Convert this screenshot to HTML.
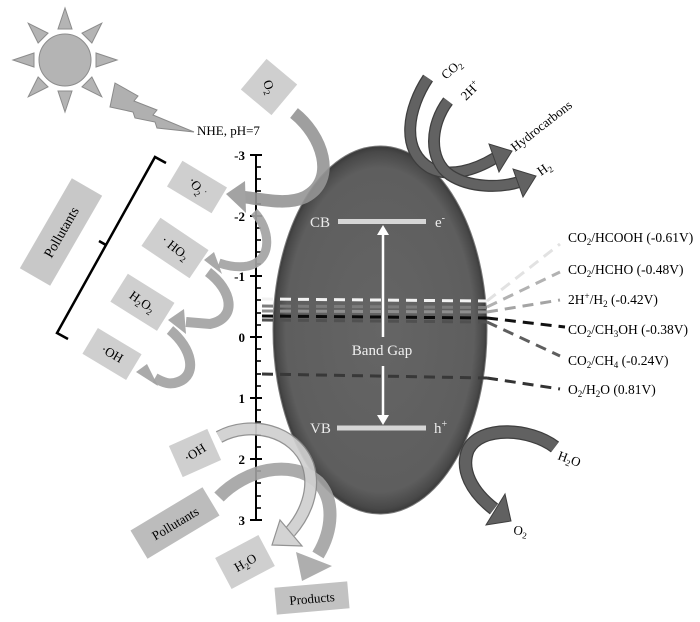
<!DOCTYPE html>
<html><head><meta charset="utf-8"><style>
html,body{margin:0;padding:0;background:#fff;}
svg{display:block;}
</style></head><body>
<svg width="700" height="622" viewBox="0 0 700 622" xmlns="http://www.w3.org/2000/svg" font-family="'Liberation Serif', serif">
<defs>
<radialGradient id="eg" cx="50%" cy="50%" r="50%">
<stop offset="0" stop-color="#656565"/>
<stop offset="0.88" stop-color="#5e5e5e"/>
<stop offset="0.97" stop-color="#484848"/>
<stop offset="1" stop-color="#3a3a3a"/>
</radialGradient>
</defs>

<!-- Sun -->
<g transform="translate(65,60)" fill="#b4b4b4" stroke="#8c8c8c" stroke-width="1">
<polygon points="0,-52 -7,-31 7,-31"/>
<polygon points="0,-52 -7,-31 7,-31" transform="rotate(45)"/>
<polygon points="0,-52 -7,-31 7,-31" transform="rotate(90)"/>
<polygon points="0,-52 -7,-31 7,-31" transform="rotate(135)"/>
<polygon points="0,-52 -7,-31 7,-31" transform="rotate(180)"/>
<polygon points="0,-52 -7,-31 7,-31" transform="rotate(225)"/>
<polygon points="0,-52 -7,-31 7,-31" transform="rotate(270)"/>
<polygon points="0,-52 -7,-31 7,-31" transform="rotate(315)"/>
<circle r="26"/>
</g>
<!-- Lightning -->
<polygon points="115,83 138,96 134,101 157,110 153,115 194,132 157,128 155,122 135,118 133,112 110,107" fill="#b0b0b0" stroke="#8a8a8a" stroke-width="1"/>
<text x="197" y="135" font-size="13">NHE, pH=7</text>

<!-- Axis -->
<g stroke="#000" stroke-width="2">
<line x1="256" y1="154" x2="256" y2="521"/>
<line x1="250" y1="155" x2="262" y2="155"/>
<line x1="250" y1="216" x2="262" y2="216"/>
<line x1="250" y1="276" x2="262" y2="276"/>
<line x1="250" y1="337" x2="262" y2="337"/>
<line x1="250" y1="398" x2="262" y2="398"/>
<line x1="250" y1="459" x2="262" y2="459"/>
<line x1="250" y1="520" x2="262" y2="520"/>
</g>
<g stroke="#000" stroke-width="1.6">
<line x1="256" y1="167" x2="261" y2="167"/><line x1="256" y1="179" x2="261" y2="179"/><line x1="256" y1="191" x2="261" y2="191"/><line x1="256" y1="204" x2="261" y2="204"/>
<line x1="256" y1="228" x2="261" y2="228"/><line x1="256" y1="240" x2="261" y2="240"/><line x1="256" y1="252" x2="261" y2="252"/><line x1="256" y1="264" x2="261" y2="264"/>
<line x1="256" y1="288" x2="261" y2="288"/><line x1="256" y1="300" x2="261" y2="300"/><line x1="256" y1="313" x2="261" y2="313"/><line x1="256" y1="325" x2="261" y2="325"/>
<line x1="256" y1="349" x2="261" y2="349"/><line x1="256" y1="361" x2="261" y2="361"/><line x1="256" y1="374" x2="261" y2="374"/><line x1="256" y1="386" x2="261" y2="386"/>
<line x1="256" y1="410" x2="261" y2="410"/><line x1="256" y1="422" x2="261" y2="422"/><line x1="256" y1="435" x2="261" y2="435"/><line x1="256" y1="447" x2="261" y2="447"/>
<line x1="256" y1="471" x2="261" y2="471"/><line x1="256" y1="483" x2="261" y2="483"/><line x1="256" y1="496" x2="261" y2="496"/><line x1="256" y1="508" x2="261" y2="508"/>
</g>
<g font-size="13" font-weight="bold" text-anchor="end">
<text x="245" y="160">-3</text>
<text x="245" y="221">-2</text>
<text x="245" y="281">-1</text>
<text x="245" y="342">0</text>
<text x="245" y="403">1</text>
<text x="245" y="464">2</text>
<text x="245" y="525">3</text>
</g>

<!-- Ellipse -->
<ellipse cx="380" cy="330" rx="107" ry="184" fill="url(#eg)" stroke="#7a7a7a" stroke-width="1"/>

<!-- Bands -->
<rect x="338" y="219" width="88" height="5" fill="#d6d6d6"/>
<rect x="337" y="425.5" width="89" height="5" fill="#d6d6d6"/>
<g fill="#ececec" font-size="15">
<text x="310" y="227">CB</text>
<text x="435" y="227">e<tspan font-size="10" dy="-6">-</tspan></text>
<text x="310" y="433">VB</text>
<text x="434" y="433">h<tspan font-size="10" dy="-6">+</tspan></text>
</g>
<g stroke="#fff" stroke-width="2.5">
<line x1="383" y1="232" x2="383" y2="337"/>
<line x1="383" y1="366" x2="383" y2="418"/>
</g>
<polygon points="383,225 377,235 389,235" fill="#fff"/>
<polygon points="383,425 377,415 389,415" fill="#fff"/>
<text x="382" y="355" font-size="15" fill="#f0f0f0" text-anchor="middle">Band Gap</text>

<!-- Dashed levels -->
<g stroke-width="3" stroke-dasharray="11 7" fill="none">
<line x1="262" y1="299" x2="487" y2="301" stroke="#f2f2f2"/>
<line x1="262" y1="306" x2="487" y2="307.5" stroke="#7c7c7c"/>
<line x1="262" y1="311" x2="487" y2="312" stroke="#8e8e8e"/>
<line x1="262" y1="316" x2="487" y2="318" stroke="#0a0a0a"/>
<line x1="262" y1="320" x2="487" y2="322" stroke="#505050"/>
<line x1="262" y1="374" x2="487" y2="378" stroke="#383838"/>
<line x1="487" y1="301" x2="560" y2="244" stroke="#e2e2e2"/>
<line x1="487" y1="307" x2="560" y2="272" stroke="#b2b2b2"/>
<line x1="487" y1="312" x2="560" y2="300" stroke="#a4a4a4"/>
<line x1="487" y1="318" x2="565" y2="327" stroke="#111"/>
<line x1="487" y1="322" x2="560" y2="356" stroke="#5e5e5e"/>
<line x1="487" y1="378" x2="560" y2="389" stroke="#333"/>
</g>
<g font-size="13.5">
<text x="568" y="242">CO<tspan font-size="9" dy="3">2</tspan><tspan dy="-3">/HCOOH (-0.61V)</tspan></text>
<text x="568" y="274">CO<tspan font-size="9" dy="3">2</tspan><tspan dy="-3">/HCHO (-0.48V)</tspan></text>
<text x="568" y="304">2H<tspan font-size="9" dy="-5">+</tspan><tspan dy="5">/H</tspan><tspan font-size="9" dy="3">2</tspan><tspan dy="-3"> (-0.42V)</tspan></text>
<text x="568" y="334">CO<tspan font-size="9" dy="3">2</tspan><tspan dy="-3">/CH</tspan><tspan font-size="9" dy="3">3</tspan><tspan dy="-3">OH (-0.38V)</tspan></text>
<text x="568" y="365">CO<tspan font-size="9" dy="3">2</tspan><tspan dy="-3">/CH</tspan><tspan font-size="9" dy="3">4</tspan><tspan dy="-3"> (-0.24V)</tspan></text>
<text x="568" y="394">O<tspan font-size="9" dy="3">2</tspan><tspan dy="-3">/H</tspan><tspan font-size="9" dy="3">2</tspan><tspan dy="-3">O (0.81V)</tspan></text>
</g>

<!-- Top right arrows -->
<g fill="none" stroke-linecap="butt">
<path d="M428 78 C408 108 400 150 430 168 C450 178 475 170 495 158" stroke="#3e3e3e" stroke-width="12"/>
<path d="M428 78 C408 108 400 150 430 168 C450 178 475 170 495 158" stroke="#626262" stroke-width="9.5"/>
<path d="M448 101 C430 125 428 160 450 175 C470 188 500 188 519 182" stroke="#3e3e3e" stroke-width="12"/>
<path d="M448 101 C430 125 428 160 450 175 C470 188 500 188 519 182" stroke="#626262" stroke-width="9.5"/>
</g>
<polygon points="489,144 499,172 512,151" fill="#626262" stroke="#3e3e3e" stroke-width="1"/>
<polygon points="513,169 523,197 536,176" fill="#626262" stroke="#3e3e3e" stroke-width="1"/>
<g font-size="13">
<text transform="translate(446,80) rotate(-42)">CO<tspan font-size="9" dy="3">2</tspan></text>
<text transform="translate(466,101) rotate(-45)">2H<tspan font-size="9" dy="-5">+</tspan></text>
<text transform="translate(515,152) rotate(-38)">Hydrocarbons</text>
<text transform="translate(541,176) rotate(-35)">H<tspan font-size="9" dy="3">2</tspan></text>
</g>

<!-- H2O -> O2 -->
<g fill="none">
<path d="M555 447 C530 428 480 425 468 450 C460 470 472 492 494 509" stroke="#3e3e3e" stroke-width="13.5"/>
<path d="M555 447 C530 428 480 425 468 450 C460 470 472 492 494 509" stroke="#616161" stroke-width="11"/>
</g>
<polygon points="505,494 486,525 511,521" fill="#616161" stroke="#3e3e3e" stroke-width="1"/>
<text transform="translate(557,459) rotate(20)" font-size="13">H<tspan font-size="9" dy="3">2</tspan><tspan dy="-3">O</tspan></text>
<text transform="translate(513,534) rotate(8)" font-size="13">O<tspan font-size="9" dy="3">2</tspan></text>

<!-- O2 top box and arrow -->
<rect x="-20" y="-20" width="40" height="40" fill="#cfcfcf" transform="translate(269,87) rotate(40)"/>
<text transform="translate(269,87) rotate(70)" text-anchor="middle" y="4" font-size="13">O<tspan font-size="9" dy="3">2</tspan></text>
<g opacity="0.9">
<path d="M294 113 C322 135 338 180 305 197 C288 205 265 200 244 197" fill="none" stroke="#959595" stroke-width="12.5"/>
<polygon points="245,181 246,213 226,194" fill="#9a9a9a"/>
</g>

<!-- Radical boxes -->
<rect x="-26" y="-15" width="52" height="30" fill="#cfcfcf" transform="translate(197,187) rotate(31)"/>
<text transform="translate(197,187) rotate(52)" text-anchor="middle" y="4" font-size="13">·O<tspan font-size="9" dy="3">2</tspan><tspan font-size="9" dy="-8">·</tspan></text>
<rect x="-29" y="-17" width="58" height="34" fill="#cfcfcf" transform="translate(175,248) rotate(34)"/>
<text transform="translate(175,248) rotate(38)" text-anchor="middle" y="4" font-size="13">· HO<tspan font-size="9" dy="3">2</tspan></text>
<rect x="-27" y="-16.5" width="55" height="33" fill="#cfcfcf" transform="translate(142,302) rotate(32)"/>
<text transform="translate(142,302) rotate(35)" text-anchor="middle" y="4" font-size="13">H<tspan font-size="9" dy="3">2</tspan><tspan dy="-3">O</tspan><tspan font-size="9" dy="3">2</tspan></text>
<rect x="-25.5" y="-15" width="51" height="30" fill="#cfcfcf" transform="translate(112,354) rotate(31)"/>
<text transform="translate(112,354) rotate(30)" text-anchor="middle" y="4" font-size="13">·OH</text>
<rect x="-52" y="-17.5" width="104" height="35" fill="#c8c8c8" transform="translate(61,232) rotate(-60)"/>
<text transform="translate(61,232) rotate(-60)" text-anchor="middle" y="5" font-size="14">Pollutants</text>

<!-- Bracket -->
<polyline points="166,163 155,157 57,333 68,339" fill="none" stroke="#000" stroke-width="2.5"/>
<line x1="106" y1="245" x2="99" y2="241" stroke="#000" stroke-width="2.5"/>

<!-- Radical arrows -->
<g opacity="0.92" fill="none" stroke="#a3a3a3">
<path d="M254 212 C270 228 274 260 248 266 C238 268 228 266 219 263" stroke-width="9"/>
<path d="M208 272 C232 290 238 318 210 324 L186 322" stroke-width="10"/>
<path d="M170 330 C192 348 198 375 178 382 C170 385 164 383 155 378" stroke-width="10"/>
</g>
<g fill="#a3a3a3" opacity="0.92">
<polygon points="214,252 222,274 204,260"/>
<polygon points="184,309 186,334 168,320"/>
<polygon points="147,364 158,386 136,372"/>
</g>

<!-- Bottom boxes -->
<rect x="-21" y="-17" width="42" height="34" fill="#cfcfcf" transform="translate(195,453) rotate(-24)"/>
<text transform="translate(195,453) rotate(-32)" text-anchor="middle" y="4" font-size="13">·OH</text>
<rect x="-42" y="-16.5" width="84" height="33" fill="#bcbcbc" transform="translate(175,523) rotate(-31)"/>
<text transform="translate(175,523) rotate(-31)" text-anchor="middle" y="5" font-size="13">Pollutants</text>
<rect x="-24.5" y="-17.5" width="49" height="35" fill="#cfcfcf" transform="translate(245,562) rotate(-28)"/>
<text transform="translate(245,562) rotate(-30)" text-anchor="middle" y="5" font-size="13">H<tspan font-size="9" dy="3">2</tspan><tspan dy="-3">O</tspan></text>
<rect x="-36.5" y="-13.5" width="73" height="27" fill="#c2c2c2" transform="translate(312,598) rotate(-5)"/>
<text transform="translate(312,598) rotate(-5)" text-anchor="middle" y="5" font-size="13">Products</text>

<!-- Bottom arrows -->
<g opacity="0.9">
<path d="M219 497 C245 470 290 458 318 482 C335 500 333 530 318 555" fill="none" stroke="#a2a2a2" stroke-width="13"/>
<polygon points="296,552 332,566 302,581" fill="#a6a6a6"/>
</g>
<g opacity="0.92">
<path d="M219 437 C250 420 295 430 308 465 C316 490 305 515 290 532" fill="none" stroke="#8a8a8a" stroke-width="13"/>
<path d="M219 437 C250 420 295 430 308 465 C316 490 305 515 290 532" fill="none" stroke="#d0d0d0" stroke-width="10.5"/>
<polygon points="280,520 302,546 272,545" fill="#d0d0d0" stroke="#8a8a8a" stroke-width="1.2"/>
</g>
</svg>
</body></html>
